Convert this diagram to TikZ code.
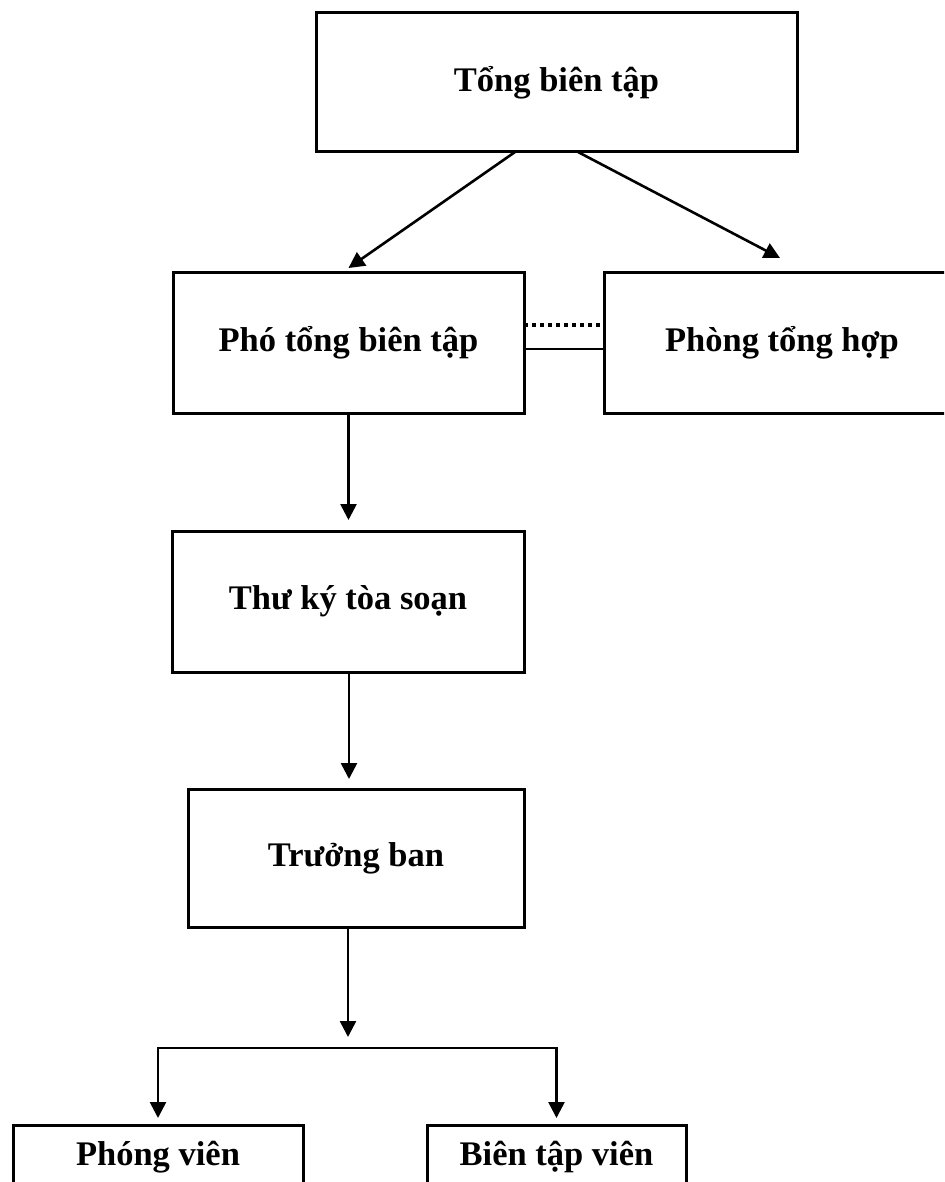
\documentclass[tikz,border=0pt]{standalone}
\usepackage{fontspec}
\setmainfont{Liberation Serif}
\usetikzlibrary{arrows.meta}
\tikzset{
  box/.style={draw, line width=3pt, outer sep=0pt, inner sep=0pt, align=center,
    font=\fontsize{34.5}{40}\selectfont\bfseries},
  conn/.style={line width=2.6pt},
  arr/.style={conn, -{Triangle[length=16pt,width=16pt]}},
  dotline/.style={line width=3.5pt, dash pattern=on 3.5pt off 4.5pt}
}
\begin{document}
\begin{tikzpicture}[x=1pt,y=-1pt]
\useasboundingbox (0,0) rectangle (944,1182);
\clip (0,0) rectangle (944,1182);
\node[box, minimum width=481pt, minimum height=139pt] (tbt) at (556.5,82.5) {Tổng biên tập};
\node[box, minimum width=351pt, minimum height=141pt] (pho) at (348.5,342.5) {Phó tổng biên tập};
\node[box, minimum width=356pt, minimum height=141pt] (phong) at (782,342.5) {Phòng tổng hợp};
\node[box, minimum width=352pt, minimum height=141pt] (tk) at (348,601.5) {Thư ký tòa soạn};
\node[box, minimum width=336pt, minimum height=138pt] (tb) at (356,858) {Trưởng ban};
\node[box, minimum width=290pt, minimum height=64pt, anchor=north] (pv) at (158,1125) {Phóng viên};
\node[box, minimum width=259pt, minimum height=64pt, anchor=north] (btv) at (556.5,1125) {Biên tập viên};
\coordinate (j) at (348,1048);
% top arrows
\draw[arr] ([xshift=-41.5pt]tbt.south) -- ([yshift=4pt]pho.north);
\draw[arr] ([xshift=21.5pt]tbt.south) -- ([xshift=-2pt,yshift=14pt]phong.north);
% link between pho and phong
\draw[dotline] ([yshift=17.5pt]pho.east) -- ([yshift=17.5pt]pho.east -| phong.west);
\draw[conn] ([yshift=-6.5pt]pho.east) -- ([yshift=-6.5pt]pho.east -| phong.west);
% vertical chain
\draw[arr, shorten >=11pt] (pho.south) -- (pho.south |- tk.north);
\draw[arr, shorten >=10pt] ([xshift=1pt]tk.south) -- ([xshift=1pt]tk.south |- tb.north);
\draw[arr, shorten >=11pt] (tb.south -| j) -- (j);
% branch
\draw[arr, shorten >=7pt, line cap=rect] (j -| btv.north) -- (j -| pv.north) -- (pv.north);
\draw[arr, shorten >=7pt] (j -| btv.north) -- (btv.north);
\end{tikzpicture}
\end{document}
